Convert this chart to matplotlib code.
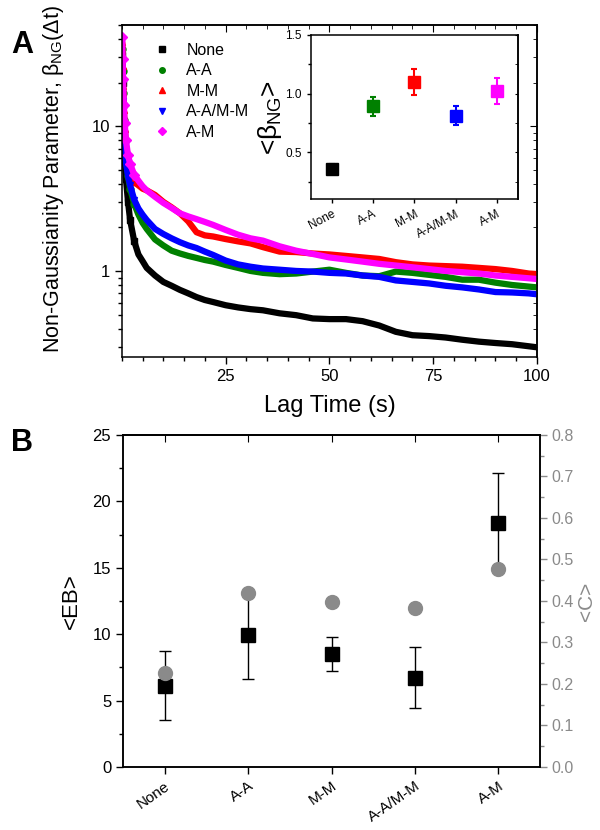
import numpy as np
import matplotlib
matplotlib.use('Agg')
import matplotlib.pyplot as plt
from matplotlib.ticker import MultipleLocator, LogLocator, NullFormatter

plt.rcParams['font.family'] = ['Liberation Sans', 'DejaVu Sans']
plt.rcParams['mathtext.fontset'] = 'custom'
plt.rcParams['mathtext.rm'] = 'Liberation Sans'
plt.rcParams['mathtext.it'] = 'Liberation Sans'
plt.rcParams['mathtext.bf'] = 'Liberation Sans:bold'
plt.rcParams['axes.linewidth'] = 1.1

# ---- panel A data ----
groups = ['None', 'A-A', 'M-M', 'A-A/M-M', 'A-M']
colors = ['black', 'green', 'red', 'blue', 'magenta']
markers = ['s', 'o', '^', 'v', 'D']

lag = [0.1, 0.2, 0.3, 0.5, 0.7, 1.0, 1.5, 2, 3, 4, 5, 6, 8, 10, 12, 14, 16, 18, 20,
       22, 25, 28, 31, 34, 38, 42, 46, 50, 54, 58, 62, 66, 70, 74, 78, 82, 86, 90,
       94, 98, 100]
ng_none = [31, 20, 14, 9, 6.0, 4.3, 3.0, 2.25, 1.6, 1.3, 1.17, 1.05, 0.93, 0.84, 0.79,
           0.74, 0.70, 0.66, 0.63, 0.61, 0.58, 0.56, 0.545, 0.535, 0.51, 0.495, 0.47,
           0.465, 0.465, 0.45, 0.42, 0.38, 0.36, 0.355, 0.347, 0.335, 0.325, 0.318,
           0.312, 0.302, 0.297]
ng_aa = [34, 24, 17, 11, 8.0, 6.0, 4.5, 3.7, 2.9, 2.45, 2.15, 1.95, 1.65, 1.50, 1.38,
         1.32, 1.27, 1.23, 1.19, 1.16, 1.10, 1.05, 1.0, 0.97, 0.95, 0.96, 0.99, 1.02,
         0.97, 0.93, 0.92, 0.99, 0.97, 0.94, 0.91, 0.87, 0.87, 0.83, 0.80, 0.78, 0.77]
ng_mm = [38, 26, 19, 13, 9.5, 7.2, 5.6, 4.8, 4.1, 3.9, 3.7, 3.6, 3.35, 3.0, 2.75, 2.5,
         2.2, 1.85, 1.76, 1.73, 1.66, 1.60, 1.55, 1.46, 1.36, 1.35, 1.32, 1.30, 1.27,
         1.24, 1.21, 1.15, 1.11, 1.09, 1.08, 1.07, 1.05, 1.03, 1.0, 0.96, 0.95]
ng_aamm = [29, 20, 15, 10, 7.5, 5.6, 4.5, 3.9, 3.1, 2.7, 2.45, 2.25, 1.95, 1.80, 1.68,
           1.58, 1.50, 1.44, 1.36, 1.29, 1.18, 1.11, 1.07, 1.04, 1.02, 1.0, 0.99, 0.97,
           0.96, 0.93, 0.91, 0.86, 0.84, 0.82, 0.79, 0.77, 0.745, 0.715, 0.71, 0.70, 0.69]
ng_am = [41, 29, 21, 14, 10.5, 8.0, 6.3, 5.5, 4.6, 4.2, 3.85, 3.6, 3.25, 2.95, 2.72,
         2.5, 2.38, 2.28, 2.18, 2.08, 1.92, 1.78, 1.68, 1.62, 1.48, 1.38, 1.31, 1.24,
         1.20, 1.16, 1.12, 1.09, 1.06, 1.03, 1.0, 0.98, 0.96, 0.93, 0.91, 0.89, 0.88]
ng_series = [ng_none, ng_aa, ng_mm, ng_aamm, ng_am]

# inset: mean beta_NG
beta_mean = [0.36, 0.89, 1.10, 0.81, 1.02]
beta_err = [0.04, 0.08, 0.11, 0.08, 0.11]

# ---- panel B data ----
eb_mean = [6.1, 9.9, 8.5, 6.7, 18.4]
eb_err = [2.6, 3.3, 1.25, 2.3, 3.7]
c_mean = [0.227, 0.420, 0.397, 0.383, 0.477]

fig = plt.figure(figsize=(6, 8.3), dpi=100)

# ================= panel A =================
ax = fig.add_axes([0.203, 0.570, 0.692, 0.400])
for i in range(len(groups)):
    ax.plot(lag, ng_series[i], '-', color=colors[i], lw=4.5, solid_capstyle='round')
    ax.plot(lag[:9], ng_series[i][:9], linestyle='none', marker=markers[i],
            color=colors[i], ms=5)
    ax.plot([], [], linestyle='none', marker=markers[i], color=colors[i], ms=4,
            label=groups[i])
ax.set_yscale('log')
ax.set_xlim(0, 100)
ax.set_ylim(0.255, 50)
ax.set_xticks([25, 50, 75, 100])
ax.xaxis.set_minor_locator(MultipleLocator(5))
ax.set_yticks([1, 10])
ax.set_yticklabels(['1', '10'])
ax.yaxis.set_minor_locator(LogLocator(base=10, subs=np.arange(2, 10)))
ax.yaxis.set_minor_formatter(NullFormatter())
ax.tick_params(which='both', direction='out', labelsize=12, width=1)
ax.tick_params(which='major', length=5)
ax.tick_params(which='minor', length=3)
secx = ax.secondary_xaxis('top')
secx.set_xticks([25, 50, 75, 100])
secx.xaxis.set_minor_locator(MultipleLocator(5))
secx.tick_params(which='both', direction='in', labeltop=False)
secx.tick_params(which='major', length=5)
secx.tick_params(which='minor', length=3)
secy = ax.secondary_yaxis('right')
secy.set_yticks([1, 10])
secy.yaxis.set_minor_locator(LogLocator(base=10, subs=np.arange(2, 10)))
secy.yaxis.set_minor_formatter(NullFormatter())
secy.tick_params(which='both', direction='in', labelright=False)
secy.tick_params(which='major', length=5)
secy.tick_params(which='minor', length=3)
ax.set_xlabel('Lag Time (s)', fontsize=17, labelpad=8)
ax.set_ylabel(r'Non-Gaussianity Parameter, $\beta_{\rm NG}(\Delta t)$', fontsize=15.5)
ax.yaxis.set_label_coords(-0.135, 0.535)
ax.legend(loc='upper left', bbox_to_anchor=(0.04, 0.99), frameon=False, fontsize=11.5,
          handletextpad=0.9, labelspacing=0.35, markerscale=1.0, handlelength=1.2)

# inset
axi = fig.add_axes([0.518, 0.760, 0.345, 0.198])
xpos = np.arange(1, len(groups) + 1)
for i in range(len(groups)):
    axi.errorbar(xpos[i], beta_mean[i], yerr=beta_err[i], fmt='s', color=colors[i],
                 ms=8, capsize=2.5, elinewidth=1.5, capthick=1.5)
axi.set_xlim(0.5, 5.5)
axi.set_ylim(0.1, 1.5)
axi.set_xticks(xpos)
axi.set_xticklabels(groups, rotation=28, ha='right', rotation_mode='anchor')
axi.set_yticks([0.5, 1.0, 1.5])
axi.yaxis.set_minor_locator(MultipleLocator(0.25))
axi.tick_params(which='both', direction='out', labelsize=8.5, width=1)
axi.tick_params(which='major', length=3)
axi.tick_params(which='minor', length=2)
isy = axi.secondary_yaxis('right')
isy.set_yticks([0.5, 1.0, 1.5])
isy.yaxis.set_minor_locator(MultipleLocator(0.25))
isy.tick_params(which='both', direction='in', labelright=False, length=2.5)
axi.set_ylabel(r'<$\beta_{\rm NG}$>', fontsize=19, labelpad=1)

# ================= panel B =================
axb = fig.add_axes([0.205, 0.076, 0.695, 0.400])
axb.errorbar(xpos, eb_mean, yerr=eb_err, fmt='none', ecolor='black', elinewidth=1,
             capsize=4, capthick=1, zorder=2)
axb.plot(xpos, eb_mean, 's', color='black', ms=9.5, zorder=3)
axb.set_xlim(0.5, 5.5)
axb.set_ylim(0, 25)
axb.set_xticks(xpos)
axb.set_xticklabels(groups, rotation=35, ha='right', rotation_mode='anchor')
axb.yaxis.set_major_locator(MultipleLocator(5))
axb.yaxis.set_minor_locator(MultipleLocator(2.5))
axb.tick_params(which='both', direction='out', labelsize=12, width=1)
axb.tick_params(axis='x', labelsize=11)
axb.tick_params(which='major', length=5)
axb.tick_params(which='minor', length=3)
axb.set_ylabel('<EB>', fontsize=16, labelpad=8)
btop = axb.secondary_xaxis('top')
btop.set_xticks(xpos)
btop.tick_params(direction='in', labeltop=False, length=5)

axc = axb.twinx()
axc.plot(xpos, c_mean, 'o', color='#8a8a8a', ms=10, zorder=4)
axc.set_ylim(0, 0.8)
axc.yaxis.set_major_locator(MultipleLocator(0.1))
axc.yaxis.set_minor_locator(MultipleLocator(0.05))
axc.tick_params(which='both', direction='out', labelsize=11.5, colors='#8a8a8a', width=1)
axc.tick_params(which='major', length=5)
axc.tick_params(which='minor', length=3)
axc.set_ylabel('<C>', fontsize=15, color='#8a8a8a', labelpad=2)

fig.text(22 / 600, 1 - 45 / 830, 'A', fontsize=22, fontweight='bold',
         ha='center', va='center')
fig.text(22 / 600, 1 - 443 / 830, 'B', fontsize=22, fontweight='bold',
         ha='center', va='center')

fig.savefig('out.png', dpi=100)
